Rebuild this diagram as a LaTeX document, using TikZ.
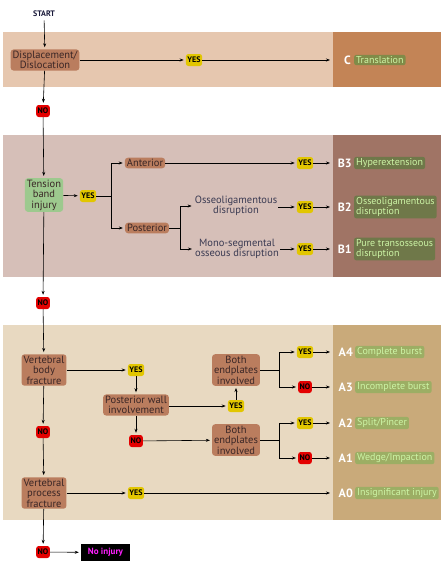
\documentclass[tikz,border=0pt]{standalone}
\usepackage{fontspec}
\setmainfont{PT Sans}
\usetikzlibrary{arrows.meta}

% band colours (left part / outcome column)
\definecolor{bandCl}{HTML}{E6C7AF}
\definecolor{bandCr}{HTML}{C38456}
\definecolor{bandBl}{HTML}{D6BFB8}
\definecolor{bandBr}{HTML}{A07465}
\definecolor{bandAl}{HTML}{E8D9C1}
\definecolor{bandAr}{HTML}{C9AA7A}
% node colours
\definecolor{qbrown}{HTML}{BA7D5E}
\definecolor{qgreen}{HTML}{9DC98E}
\definecolor{qtext}{HTML}{3A2626}
\definecolor{plaintext}{HTML}{3A3A52}
\definecolor{yesfill}{HTML}{E2C600}
\definecolor{nofill}{HTML}{E40000}
\definecolor{resC}{HTML}{808B48}
\definecolor{resB}{HTML}{6F7849}
\definecolor{resA}{HTML}{9CAE64}
\definecolor{restext}{HTML}{CDF5A6}
\definecolor{startcol}{HTML}{1A1A3A}
\definecolor{noinjtext}{HTML}{FF20FF}

\tikzset{
  question/.style={fill=qbrown, rounded corners=3pt, inner xsep=2pt, inner ysep=1.5pt,
    align=center, text=qtext, font=\fontsize{10.5}{10.5}\selectfont},
  greenq/.style={question, fill=qgreen},
  plain/.style={align=center, text=plaintext, inner sep=1pt, font=\fontsize{10.5}{10.5}\selectfont},
  yesbox/.style={fill=yesfill, rounded corners=2.5pt, inner xsep=1.5pt, inner ysep=1pt,
    minimum height=12pt, text=black, font=\bfseries\fontsize{8}{8}\selectfont},
  nobox/.style={yesbox, fill=nofill},
  code/.style={anchor=east, inner sep=0pt, text=white, font=\bfseries\fontsize{12}{12}\selectfont},
  result/.style={anchor=west, rounded corners=2pt, inner xsep=2pt, inner ysep=1.5pt,
    align=left, text=restext, font=\fontsize{10}{10.5}\selectfont},
  arr/.style={-{Stealth[length=4pt,width=3pt]}, line width=0.6pt, shorten >=2pt},
  ln/.style={line width=0.6pt},
}

\begin{document}
\begin{tikzpicture}[x=1pt,y=-1pt]
\useasboundingbox (0,0) rectangle (444,565);

% background bands
\fill[bandCl] (3,32) rectangle (333,87);
\fill[bandCr] (333,32) rectangle (441,87);
\fill[bandBl] (3,135) rectangle (333,277);
\fill[bandBr] (333,135) rectangle (441,277);
\fill[bandAl] (3,325) rectangle (333,520);
\fill[bandAr] (333,325) rectangle (441,520);

% ---- type C ----
\node[text=startcol, font=\bfseries\fontsize{8}{8}\selectfont] (start) at (44,14) {START};
\node[question] (disp) at (45,60) {Displacement/\\Dislocation};
\node[yesbox] (yes1) at (194,60) {YES};
\coordinate (eC) at (332,60);
\node[code] (cC) at (351,60) {C};
\node[result, fill=resC] (rC) at (354,60) {Translation};

\draw[arr] (start) -- (disp);
\draw[arr] (disp) -- (yes1);
\draw[arr] (yes1) -- (eC);

\node[nobox] (no1) at (43,111) {NO};
\draw[arr] (disp) -- (no1);

% ---- type B ----
\node[greenq] (tens) at (44,195) {Tension\\band\\injury};
\draw[arr] (no1) -- (tens);
\node[yesbox] (yes2) at (88,196) {YES};
\draw[arr] (tens) -- (yes2);
\coordinate (br1) at (111,196);
\node[question] (ant) at (145,163) {Anterior};
\node[question] (post) at (147,228) {Posterior};
\draw[ln] (yes2) -- (br1);
\draw[arr] (br1) |- (ant);
\draw[arr] (br1) |- (post);

\node[yesbox] (yes3) at (305,163) {YES};
\coordinate (eB3) at (332,163);
\node[code] (cB3) at (352,163) {B3};
\node[result, fill=resB] (rB3) at (354,163) {Hyperextension};
\draw[arr] (ant) -- (yes3);
\draw[arr] (yes3) -- (eB3);

\coordinate (br2) at (180,228);
\node[plain] (osseo) at (236,206) {Osseoligamentous\\disruption};
\node[plain] (mono) at (237,249) {Mono-segmental\\osseous disruption};
\draw[ln] (post) -- (br2);
\draw[arr] (br2) |- (osseo.west);
\draw[arr] (br2) |- (mono.west);

\node[yesbox] (yes4) at (305,207) {YES};
\node[yesbox] (yes5) at (305,249) {YES};
\draw[arr] (osseo.east |- yes4) -- (yes4);
\draw[arr] (mono.east |- yes5) -- (yes5);
\coordinate (eB2) at (332,207);
\coordinate (eB1) at (332,249);
\draw[arr] (yes4) -- (eB2);
\draw[arr] (yes5) -- (eB1);
\node[code] (cB2) at (352,207) {B2};
\node[result, fill=resB] (rB2) at (354,207) {Osseoligamentous\\disruption};
\node[code] (cB1) at (352,249) {B1};
\node[result, fill=resB] (rB1) at (354,249) {Pure transosseous\\disruption};

\node[nobox] (no2) at (43,303) {NO};
\draw[arr] (tens) -- (no2);

% ---- type A ----
\node[question] (vbf) at (44,370) {Vertebral\\body\\fracture};
\draw[arr] (no2) -- (vbf);
\node[yesbox] (yes6) at (136,370) {YES};
\draw[arr] (vbf) -- (yes6);
\node[question] (pwi) at (136,405) {Posterior wall\\involvement};
\draw[arr] (yes6) -- (pwi);
\node[yesbox] (yes7) at (236,406) {YES};
\draw[arr] (pwi.east |- yes7) -- (yes7);
\node[question] (bep1) at (236,370) {Both\\endplates\\involved};
\draw[arr] (yes7) -- (bep1);
\coordinate (br3) at (279,370);
\draw[ln] (bep1) -- (br3);
\node[yesbox] (yes8) at (305,352) {YES};
\node[nobox] (no3) at (305,387) {NO};
\draw[arr] (br3) |- (yes8);
\draw[arr] (br3) |- (no3);
\coordinate (eA4) at (332,352);
\coordinate (eA3) at (332,387);
\draw[arr] (yes8) -- (eA4);
\draw[arr] (no3) -- (eA3);
\node[code] (cA4) at (353,352) {A4};
\node[result, fill=resA] (rA4) at (355,352) {Complete burst};
\node[code] (cA3) at (353,387) {A3};
\node[result, fill=resA] (rA3) at (355,387) {Incomplete burst};

\node[nobox] (no4) at (136,441) {NO};
\draw[arr] (pwi) -- (no4);
\node[question] (bep2) at (236,440) {Both\\endplates\\involved};
\draw[arr] (no4) -- (bep2);
\coordinate (br4) at (279,440);
\draw[ln] (bep2) -- (br4);
\node[yesbox] (yes9) at (305,423) {YES};
\node[nobox] (no5) at (305,458) {NO};
\draw[arr] (br4) |- (yes9);
\draw[arr] (br4) |- (no5);
\coordinate (eA2) at (332,423);
\coordinate (eA1) at (332,458);
\draw[arr] (yes9) -- (eA2);
\draw[arr] (no5) -- (eA1);
\node[code] (cA2) at (353,423) {A2};
\node[result, fill=resA] (rA2) at (355,423) {Split/Pincer};
\node[code] (cA1) at (353,458) {A1};
\node[result, fill=resA] (rA1) at (355,458) {Wedge/Impaction};

\node[nobox] (no6) at (43,432) {NO};
\draw[arr] (vbf) -- (no6);
\node[question] (vpf) at (44,493) {Vertebral\\process\\fracture};
\draw[arr] (no6) -- (vpf);
\node[yesbox] (yes10) at (136,493) {YES};
\draw[arr] (vpf) -- (yes10);
\coordinate (eA0) at (332,493);
\draw[arr] (yes10) -- (eA0);
\node[code] (cA0) at (353,493) {A0};
\node[result, fill=resA] (rA0) at (355,493) {Insignificant injury};

% ---- no injury ----
\node[nobox] (no7) at (43,552) {NO};
\draw[arr] (vpf) -- (no7);
\node[fill=black, text=noinjtext, inner xsep=4pt, inner ysep=2pt, minimum width=49pt,
  minimum height=17pt, font=\bfseries\fontsize{9}{9}\selectfont] (noinj) at (105.5,552.5) {No injury};
\draw[arr] (no7) -- (noinj);
\end{tikzpicture}
\end{document}
